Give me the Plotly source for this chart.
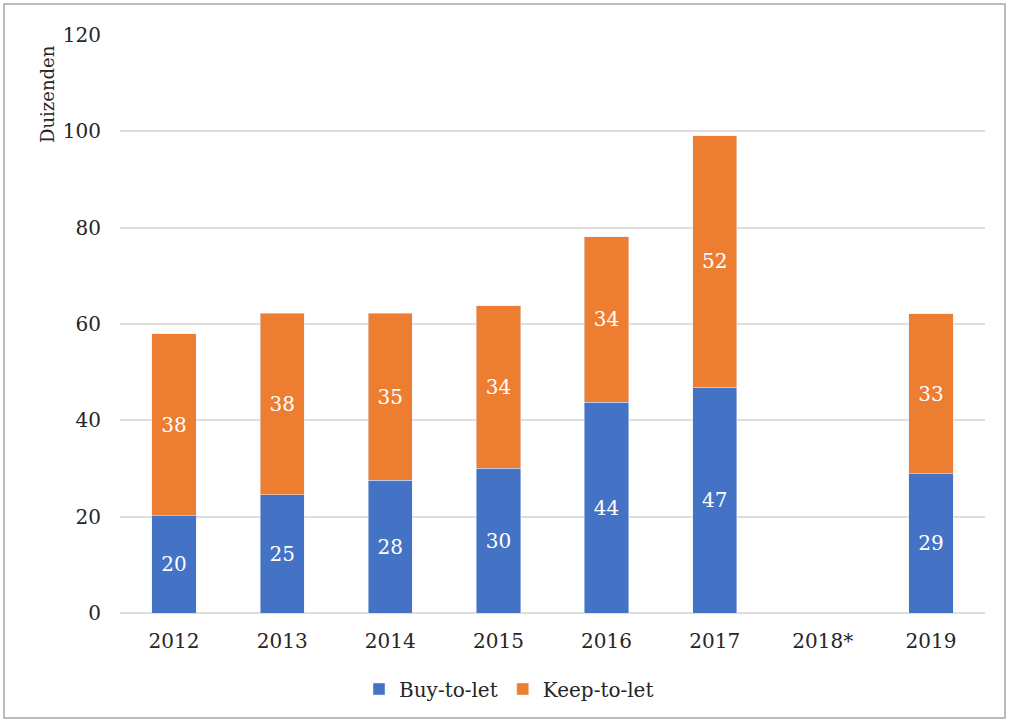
import plotly.graph_objects as go

years = ["2012", "2013", "2014", "2015", "2016", "2017", "2018*", "2019"]
buy_to_let = [20.2, 24.6, 27.6, 30.1, 43.8, 46.9, None, 28.9]
keep_to_let = [37.8, 37.6, 34.6, 33.7, 34.3, 52.2, None, 33.2]
y_ticks = [0, 20, 40, 60, 80, 100, 120]

FONT = "DejaVu Serif"
BLUE = "#4472C4"
ORANGE = "#ED7D31"
TXT = "#262626"

fig = go.Figure()
fig.add_bar(x=years, y=buy_to_let, name="Buy-to-let", marker_color=BLUE,
            texttemplate="%{y:.0f}", textposition="inside", insidetextanchor="middle",
            textfont=dict(color="white", size=20, family=FONT), hoverinfo="skip")
fig.add_bar(x=years, y=keep_to_let, name="Keep-to-let", marker_color=ORANGE,
            texttemplate="%{y:.0f}", textposition="inside", insidetextanchor="middle",
            textfont=dict(color="white", size=20, family=FONT), hoverinfo="skip")

L, R, T, B = 120, 29, 35, 111
W, H = 1014, 724
pw, ph = W - L - R, H - T - B

def px_x(x):
    return (x - L) / pw

def px_y(y):
    return (H - B - y) / ph

fig.update_layout(
    width=W, height=H,
    barmode="stack", bargap=0.59,
    plot_bgcolor="white", paper_bgcolor="white",
    margin=dict(l=L, r=R, t=T, b=B),
    font=dict(family=FONT, size=20, color=TXT),
    showlegend=True,
    legend=dict(orientation="h", x=px_x(509), xanchor="center", y=px_y(689), yanchor="middle",
                font=dict(size=20, family=FONT, color=TXT), traceorder="normal"),
    xaxis=dict(showgrid=False, showline=False, ticks="", ticklabelstandoff=14,
               tickfont=dict(size=20, family=FONT, color=TXT)),
    yaxis=dict(range=[0, 120], tickvals=y_ticks, showgrid=True, gridcolor="#DEDEDE",
               gridwidth=1.5, zeroline=True, zerolinecolor="#DEDEDE", zerolinewidth=1.5,
               showline=False, ticks="", ticklabelstandoff=18,
               tickfont=dict(size=20, family=FONT, color=TXT)),
    annotations=[dict(text="Duizenden", textangle=-90, xref="paper", yref="paper",
                      x=px_x(47), y=px_y(43), xanchor="center", yanchor="top",
                      showarrow=False, font=dict(size=18, family=FONT, color=TXT))],
    shapes=[dict(type="rect", xref="paper", yref="paper",
                 x0=px_x(4), x1=px_x(1005), y0=px_y(718), y1=px_y(4),
                 line=dict(color="#A6A6A6", width=1.5), fillcolor="rgba(0,0,0,0)", layer="below")],
)

fig.write_html("out.html", config={"displayModeBar": False},
               post_script="document.body.style.margin='0';")
